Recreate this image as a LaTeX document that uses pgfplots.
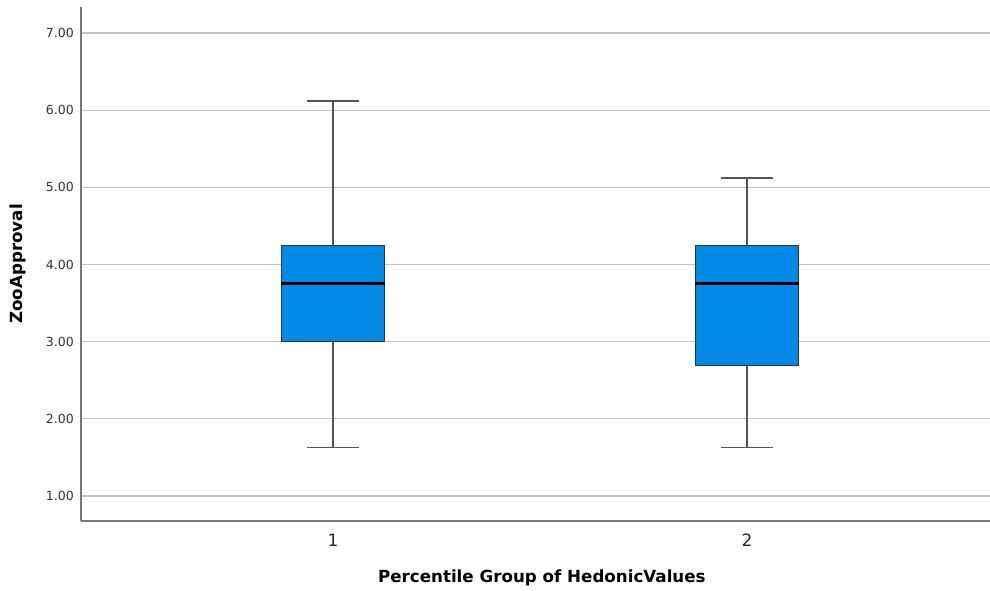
\documentclass[border=0pt]{standalone}
\usepackage{fontspec}
\setmainfont{DejaVu Sans}
\usepackage{pgfplots}
\pgfplotsset{compat=1.18}
\usepgfplotslibrary{statistics}
\definecolor{boxblue}{RGB}{0,137,229}
\definecolor{gridgray}{RGB}{195,195,195}
\definecolor{axisgray}{RGB}{120,120,120}
\definecolor{whiskgray}{RGB}{85,85,85}
\begin{document}
\begin{tikzpicture}[x=1pt,y=1pt]
\path[use as bounding box] (0,0) rectangle (990,590);
\begin{axis}[
  at={(81pt,69pt)}, anchor=south west,
  scale only axis, width=909pt, height=514pt,
  xmin=0.3913, xmax=2.587,
  ymin=0.676, ymax=7.337,
  axis x line*=bottom, axis y line*=left,
  axis line style={axisgray, line width=1.2pt},
  xtick={1,2}, xticklabels={1,2},
  ytick={1,2,3,4,5,6,7},
  yticklabel={\pgfmathprintnumber[fixed,fixed zerofill,precision=2]{\tick}},
  /pgf/number format/assume math mode=true,
  major tick length=0pt,
  ymajorgrids, grid style={gridgray, line width=1.2pt},
  yticklabel style={font=\fontsize{12.5}{13}\selectfont, text=black!80, anchor=east, inner sep=0pt, xshift=-7pt},
  xticklabel style={font=\fontsize{17}{18}\selectfont, text=black!85, anchor=center, inner sep=0pt, yshift=-19pt},
  xlabel={Percentile Group of HedonicValues},
  ylabel={ZooApproval},
  xlabel style={font=\bfseries\fontsize{16.7}{18}\selectfont, at={(axis description cs:0.507,0)}, anchor=center, yshift=-57pt},
  ylabel style={font=\bfseries\fontsize{16.7}{18}\selectfont, at={(axis description cs:-0.0693,0.5)}, anchor=center},
  boxplot/draw direction=y,
  boxplot/box extend=0.249,
  boxplot/whisker extend=0.125,
  boxplot/every box/.style={draw=black!80, fill=boxblue, line width=1.1pt},
  boxplot/every median/.style={black, line width=2.8pt},
  boxplot/every whisker/.style={whiskgray, line width=1.2pt},
]
\addplot[boxplot prepared={lower whisker=1.63, lower quartile=3.00, median=3.75, upper quartile=4.25, upper whisker=6.12, draw position=1}] coordinates {};
\addplot[boxplot prepared={lower whisker=1.63, lower quartile=2.69, median=3.75, upper quartile=4.25, upper whisker=5.12, draw position=2}] coordinates {};
\end{axis}
\end{tikzpicture}
\end{document}
